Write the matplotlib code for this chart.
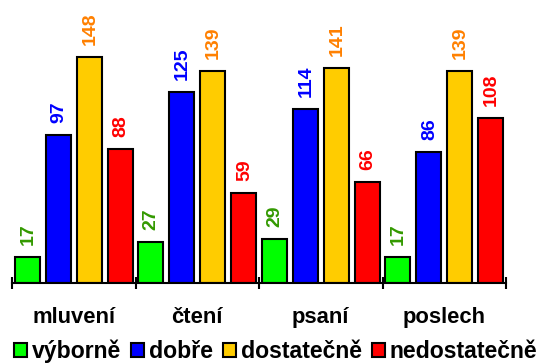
import matplotlib
matplotlib.use("Agg")
import matplotlib.pyplot as plt
from matplotlib.patches import Rectangle
import numpy as np

categories = ["mluvení", "čtení", "psaní", "poslech"]
series_names = ["výborně", "dobře", "dostatečně", "nedostatečně"]
vyborne = [17, 27, 29, 17]
dobre = [97, 125, 114, 86]
dostatecne = [148, 139, 141, 139]
nedostatecne = [88, 59, 66, 108]

series_values = [vyborne, dobre, dostatecne, nedostatecne]
bar_colors = ["#00ff00", "#0000ff", "#ffcc00", "#ff0000"]
label_colors = ["#339900", "#0000ff", "#ff8000", "#ff0000"]

plt.rcParams["font.family"] = ["Liberation Sans", "DejaVu Sans"]

fig = plt.figure(figsize=(5.52, 3.64), dpi=100)
W, H = 552, 364
ax = fig.add_axes([12 / W, 81 / H, (506 - 12) / W, (H - 81) / H])

x = np.arange(len(categories))
width = 0.203
step = 0.252
for i, (vals, bc, lc) in enumerate(zip(series_values, bar_colors, label_colors)):
    pos = x + (i - 1.5) * step
    bars = ax.bar(pos, vals, width=width, color=bc, edgecolor="black", linewidth=1.5, zorder=2)
    for b, v in zip(bars, vals):
        ax.annotate(str(v), (b.get_x() + b.get_width() / 2, v), xytext=(0.5, 8.5),
                    textcoords="offset points", rotation=90, ha="center", va="bottom",
                    color=lc, fontsize=14, fontweight="bold", annotation_clip=False)

ax.set_xlim(-0.5, len(categories) - 0.5)
ax.set_ylim(0, 185.3)
for s in ["top", "right", "left"]:
    ax.spines[s].set_visible(False)
ax.spines["bottom"].set_linewidth(1.5)
ax.set_yticks([])
ax.set_xticks(np.arange(-0.5, len(categories), 1.0))
ax.set_xticklabels([])
ax.tick_params(axis="x", which="major", direction="inout", length=9, width=1.5)
ax.set_xticks(x, minor=True)
ax.set_xticklabels(categories, minor=True, fontsize=15.8, fontweight="bold")
ax.tick_params(axis="x", which="minor", length=0, pad=17)

handles = [Rectangle((0, 0), 1, 1, facecolor=c, edgecolor="black", linewidth=1.5) for c in bar_colors]
fig.legend(handles, series_names, loc="center left", bbox_to_anchor=(14 / W, 12.5 / H),
           ncol=4, frameon=False, handlelength=0.56, handleheight=0.56,
           handletextpad=0.22, columnspacing=0.43, borderpad=0, borderaxespad=0,
           prop={"weight": "bold", "size": 16.6})

fig.savefig("out.png", dpi=100)
